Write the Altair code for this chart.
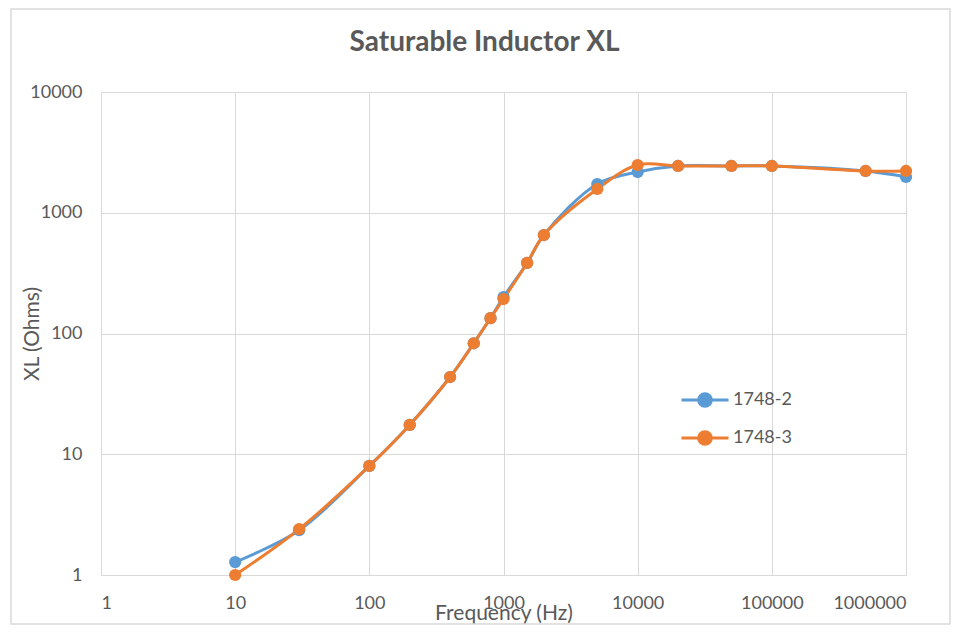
import altair as alt
import pandas as pd

freq = [10, 30, 100, 200, 400, 600, 800, 1000, 1500, 2000, 5000, 10000,
        20000, 50000, 100000, 500000, 1000000]
xl_1748_2 = [1.28, 2.35, 8.0, 17.5, 43.6, 83, 134, 200, 384, 654, 1730, 2175,
             2440, 2440, 2440, 2218, 1978]
xl_1748_3 = [1.0, 2.4, 8.0, 17.5, 43.6, 83, 134, 193, 384, 654, 1573, 2485,
             2440, 2440, 2440, 2218, 2218]
series_names = ["1748-2", "1748-3"]
series_colors = ["#5B9BD5", "#ED7D31"]
x_ticks = [1, 10, 100, 1000, 10000, 100000, 1000000]
y_ticks = [1, 10, 100, 1000, 10000]

rows = []
for i, f in enumerate(freq):
    rows.append({"freq": f, "xl": xl_1748_2[i], "series": series_names[0], "order": 0})
for i, f in enumerate(freq):
    rows.append({"freq": f, "xl": xl_1748_3[i], "series": series_names[1], "order": 1})
df = pd.DataFrame(rows)

FONT = "Lato"
legend_path = "M-1,0L1,0M0.27,0A0.27,0.27 0 1,1 -0.27,0A0.27,0.27 0 1,1 0.27,0Z"

x_enc = alt.X("freq:Q",
              scale=alt.Scale(type="log", domain=[1, 1000000], nice=False),
              axis=alt.Axis(values=x_ticks, format="d", title="Frequency (Hz)",
                            titleY=44, titleBaseline="alphabetic"))
y_enc = alt.Y("xl:Q",
              scale=alt.Scale(type="log", domain=[1, 10000], nice=False),
              axis=alt.Axis(values=y_ticks, format="d", title="XL (Ohms)",
                            titleX=-63, titleAngle=270, titleBaseline="alphabetic"))
color_enc = alt.Color("series:N",
                      scale=alt.Scale(domain=series_names, range=series_colors),
                      legend=alt.Legend(title=None, orient="none", legendX=579, legendY=283,
                                        symbolType=legend_path, symbolSize=2209,
                                        symbolStrokeWidth=3, labelFontSize=18,
                                        labelColor="#595959", labelFont=FONT,
                                        rowPadding=-7, labelOffset=3))

base = alt.Chart(df)
lines = base.mark_line(interpolate="catmull-rom", strokeWidth=3).encode(
    x=x_enc, y=y_enc, color=color_enc, detail="series:N", order="order:Q")
points = base.mark_point(filled=True, size=150, opacity=1).encode(
    x=x_enc, y=y_enc, color=color_enc)

frame = alt.Chart(pd.DataFrame({"a": [0]})).mark_rect(
    fill=None, stroke="#d9d9d9", strokeWidth=1.5, clip=False).encode(
    x=alt.value(-90), x2=alt.value(849), y=alt.value(-83), y2=alt.value(532))

chart = alt.layer(frame, lines, points).properties(
    width=805, height=483,
    autosize=alt.AutoSizeParams(type="none"),
    padding={"left": 93, "top": 84, "right": 45, "bottom": 50},
    title=alt.Title("Saturable Inductor XL", fontSize=28, fontWeight="bold",
                    color="#595959", font=FONT, offset=-49, dx=-19),
).configure_view(stroke=None).configure_axis(
    grid=True, gridColor="#d9d9d9", gridWidth=1, domain=False, ticks=False,
    labelFont=FONT, labelFontSize=18, labelColor="#595959",
    titleFont=FONT, titleFontSize=21, titleColor="#595959", titleFontWeight="normal",
).configure_axisX(labelPadding=19, labelBaseline="top").configure_axisY(labelPadding=19)

chart.save("out.html", embed_options={"renderer": "svg", "actions": False})
